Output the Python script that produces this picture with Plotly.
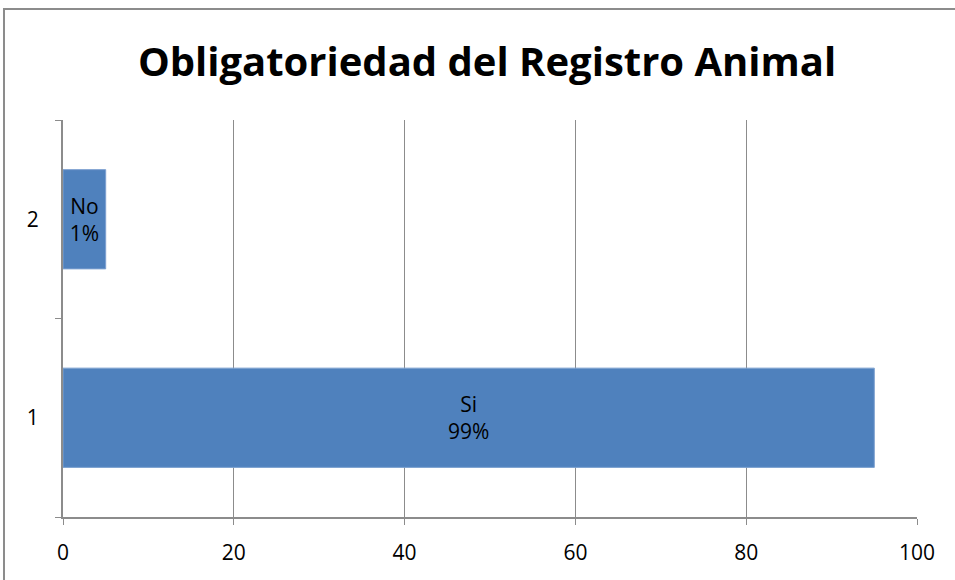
import plotly.graph_objects as go

categories = ["1", "2"]
values = [95, 5]
bar_labels = ["Si<br>99%", "No<br>1%"]
x_ticks = [0, 20, 40, 60, 80, 100]
title = "Obligatoriedad del Registro Animal"

fig = go.Figure(go.Bar(
    y=categories, x=values, orientation="h",
    text=bar_labels, textposition="inside", insidetextanchor="middle",
    textfont=dict(size=21, color="black", family="Open Sans"),
    marker=dict(color="#4F81BD", line=dict(color="#7DA1D0", width=1)),
    width=0.5,
))

fig.update_layout(
    width=955, height=580,
    margin=dict(l=63, r=38, t=120, b=63),
    paper_bgcolor="white", plot_bgcolor="white",
    title=dict(text="<b>" + title + "</b>", x=0.51, xanchor="center", y=0.893, yanchor="middle",
               font=dict(size=40, color="black", family="Open Sans")),
    showlegend=False,
    font=dict(family="Open Sans", color="black"),
)
fig.update_xaxes(
    range=[0, 100], tickvals=x_ticks, showgrid=True, gridcolor="#8C8C8C", gridwidth=1,
    showline=True, linecolor="#8C8C8C", linewidth=2, ticks="outside", ticklen=6,
    tickcolor="#8C8C8C", tickfont=dict(size=21), zeroline=False,
    ticklabelstandoff=10,
)
fig.update_yaxes(
    type="category", categoryorder="array", categoryarray=categories,
    showline=True, linecolor="#8C8C8C", linewidth=2, ticks="outside", ticklen=6,
    tickson="boundaries", tickcolor="#8C8C8C", tickfont=dict(size=21), showgrid=False,
    ticklabelstandoff=18,
)
fig.add_shape(type="rect", xref="paper", yref="paper",
              x0=-0.0691, x1=1.06, y0=-0.2, y1=1.2796,
              line=dict(color="#8C8C8C", width=2), fillcolor="rgba(0,0,0,0)", layer="below")

fig.write_html("out.html", config={"displayModeBar": False},
               post_script="document.body.style.margin='0';")
